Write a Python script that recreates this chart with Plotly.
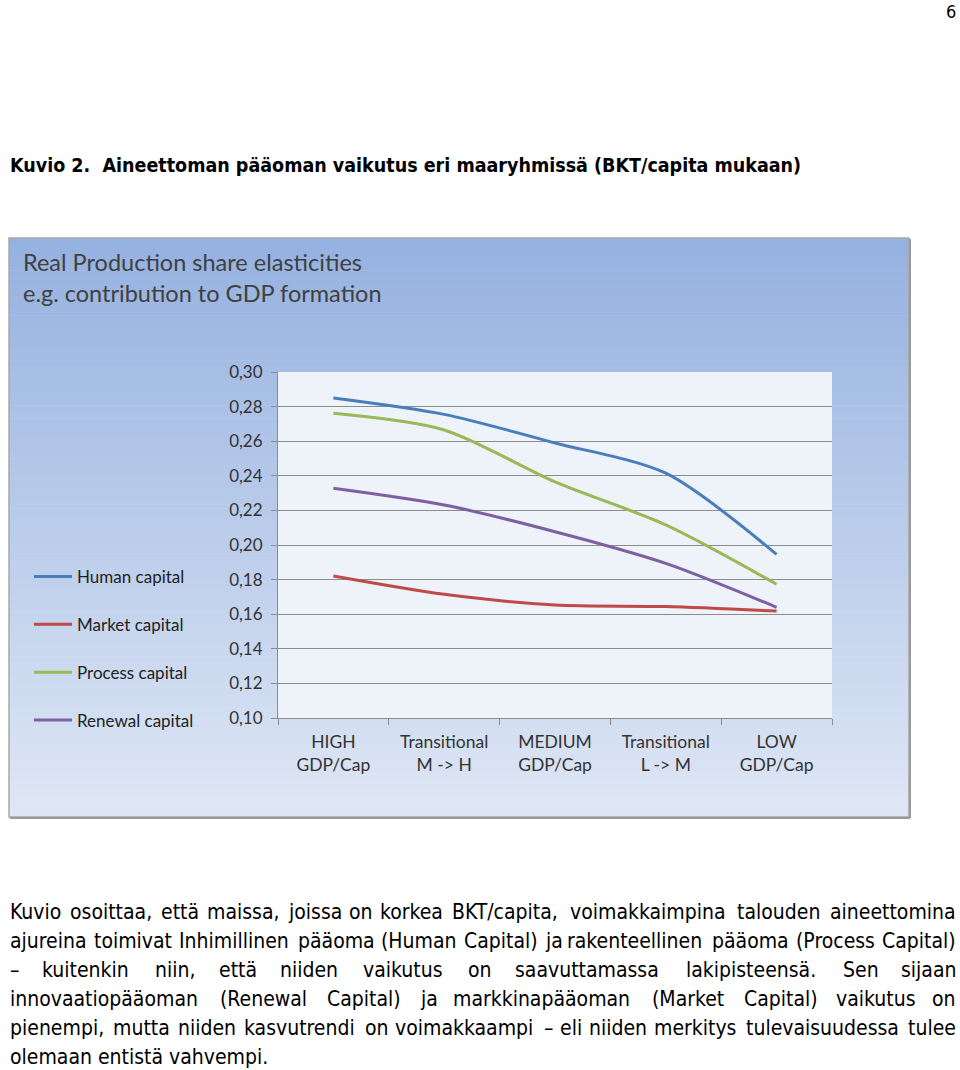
import plotly.graph_objects as go

# ---- data ----
categories = ["HIGH<br>GDP/Cap", "Transitional<br>M -> H", "MEDIUM<br>GDP/Cap",
              "Transitional<br>L -> M", "LOW<br>GDP/Cap"]
human_capital = [0.285, 0.2755, 0.259, 0.2415, 0.1946]
market_capital = [0.1821, 0.1715, 0.1653, 0.1644, 0.1618]
process_capital = [0.2761, 0.2665, 0.2365, 0.2116, 0.1773]
renewal_capital = [0.2328, 0.2231, 0.2077, 0.1894, 0.1640]
series_names = ["Human capital", "Market capital", "Process capital", "Renewal capital"]
series_colors = ["#4a7ebb", "#be4b48", "#98b954", "#7d60a0"]
y_ticks = [0.10, 0.12, 0.14, 0.16, 0.18, 0.20, 0.22, 0.24, 0.26, 0.28, 0.30]

doc_title = "Kuvio 2.  Aineettoman pääoman vaikutus eri maaryhmissä (BKT/capita mukaan)"
chart_title = ["Real Production share elasticities", "e.g. contribution to GDP formation"]
body_lines = [
    "Kuvio osoittaa, että maissa, joissa on korkea BKT/capita, voimakkaimpina talouden aineettomina",
    "ajureina toimivat Inhimillinen pääoma (Human Capital) ja rakenteellinen pääoma (Process Capital)",
    "– kuitenkin niin, että niiden vaikutus on saavuttamassa lakipisteensä. Sen sijaan",
    "innovaatiopääoman (Renewal Capital) ja markkinapääoman (Market Capital) vaikutus on",
    "pienempi, mutta niiden kasvutrendi on voimakkaampi – eli niiden merkitys tulevaisuudessa tulee",
    "olemaan entistä vahvempi.",
]
justify = [True, True, True, True, True, False]

W, H = 960, 1070
def px(x): return x / W
def py(y): return 1 - y / H

fig = go.Figure()
for name, vals, col in zip(series_names,
                           [human_capital, market_capital, process_capital, renewal_capital],
                           series_colors):
    fig.add_trace(go.Scatter(x=categories, y=vals, name=name, mode="lines",
                             legendgroup=name,
                             line=dict(color=col, width=3, shape="spline", smoothing=0.8)))

shapes = []
top_c = (149, 177, 224)
bot_c = (223, 231, 245)
y0, y1 = 238, 817
n = 90
for i in range(n):
    t = (i + 0.5) / n
    c = tuple(int(round(top_c[k] + (bot_c[k] - top_c[k]) * t)) for k in range(3))
    ya = y0 + (y1 - y0) * i / n
    yb = y0 + (y1 - y0) * (i + 1) / n + 0.6
    shapes.append(dict(type="rect", xref="paper", yref="paper", layer="below",
                       x0=px(9), x1=px(909), y0=py(ya), y1=py(min(yb, y1)),
                       line=dict(width=0), fillcolor="rgb(%d,%d,%d)" % c))
shapes.append(dict(type="rect", xref="paper", yref="paper", layer="below",
                   x0=px(9), x1=px(909), y0=py(817), y1=py(238),
                   line=dict(color="#a8a8a8", width=1.5), fillcolor="rgba(0,0,0,0)"))
shapes.append(dict(type="line", xref="paper", yref="paper", layer="below",
                   x0=px(10), x1=px(910), y0=py(818), y1=py(818),
                   line=dict(color="#9a9a9a", width=2)))
shapes.append(dict(type="line", xref="paper", yref="paper", layer="below",
                   x0=px(910), x1=px(910), y0=py(239), y1=py(818),
                   line=dict(color="#9a9a9a", width=2)))
shapes.append(dict(type="rect", xref="paper", yref="paper", layer="below",
                   x0=px(278), x1=px(832), y0=py(718), y1=py(372),
                   line=dict(width=0), fillcolor="#eef2f9"))

chart_font = "Lato, Open Sans, sans-serif"
doc_font = "DejaVu Sans Condensed, DejaVu Sans, sans-serif"
BODY_SIZE = 21

EM = {'a': .613, 'b': .635, 'c': .550, 'd': .635, 'e': .615, 'f': .352, 'g': .635, 'h': .634,
      'i': .278, 'j': .278, 'k': .579, 'l': .278, 'm': .974, 'n': .634, 'o': .612, 'p': .635,
      'q': .635, 'r': .411, 's': .521, 't': .392, 'u': .634, 'v': .592, 'w': .818, 'x': .592,
      'y': .592, 'z': .525, 'ä': .613, 'ö': .612, ' ': .318, ',': .318, '.': .318, '(': .390,
      ')': .390, '/': .337, '–': .5, 'B': .686, 'C': .698, 'H': .752, 'K': .656, 'L': .557,
      'M': .863, 'P': .603, 'R': .695, 'S': .635, 'T': .611, 'I': .295}
def text_w(s, size):
    return sum(EM.get(ch, 0.6) for ch in s) * size * 0.93

def ann(text, x, y, xanchor, size, family, color="#000"):
    return dict(text=text, x=x, y=y, xref="paper", yref="paper", xanchor=xanchor,
                yanchor="middle", showarrow=False, font=dict(family=family, size=size, color=color))

annotations = []
annotations.append(ann("6", px(958), py(11), "right", 18, doc_font))
annotations.append(ann("<b>" + doc_title + "</b>", px(8), py(166), "left", 19.5, doc_font))
for i, t in enumerate(chart_title):
    annotations.append(ann(t, px(21), py(262 + 31 * i), "left", 23.5, chart_font, "#404040"))

line_y0, line_dy = 912, 29
for i, (t, just) in enumerate(zip(body_lines, justify)):
    yy = py(line_y0 + line_dy * i)
    if not just:
        annotations.append(ann(t, px(8), yy, "left", BODY_SIZE, doc_font))
        continue
    words = t.split(" ")
    widths = [text_w(w, BODY_SIZE) for w in words]
    gap = (949 - sum(widths)) / (len(words) - 1)
    x = 8
    for j, (w, wd) in enumerate(zip(words, widths)):
        if j == len(words) - 1:
            annotations.append(ann(w, px(958), yy, "right", BODY_SIZE, doc_font))
        else:
            annotations.append(ann(w, px(x), yy, "left", BODY_SIZE, doc_font))
        x += wd + gap

fig.update_layout(
    width=W, height=H, autosize=False,
    margin=dict(l=0, r=0, t=0, b=0),
    paper_bgcolor="white", plot_bgcolor="rgba(0,0,0,0)",
    separators=",.",
    shapes=shapes, annotations=annotations,
    showlegend=True,
    legend=dict(x=px(29), y=py(559), xanchor="left", yanchor="top",
                bgcolor="rgba(0,0,0,0)", borderwidth=0,
                tracegroupgap=22.7, itemwidth=38,
                font=dict(family=chart_font, size=17, color="#222")),
    xaxis=dict(domain=[px(278), px(832)], type="category", automargin=False,
               showgrid=False, showline=True, linecolor="#8c8c8c", linewidth=1,
               ticks="outside", tickson="boundaries", ticklen=6, tickcolor="#8c8c8c",
               ticklabelstandoff=8,
               tickfont=dict(family=chart_font, size=17.5, color="#333"),
               range=[-0.5, 4.5], fixedrange=True),
    yaxis=dict(domain=[py(718), py(372)], automargin=False,
               range=[0.10, 0.30], tickvals=y_ticks, tickformat=".2f",
               showgrid=True, gridcolor="#8c8c8c", gridwidth=1,
               showline=True, linecolor="#8c8c8c", linewidth=1,
               ticks="outside", ticklen=6, tickcolor="#8c8c8c",
               ticklabelstandoff=5,
               tickfont=dict(family=chart_font, size=17, color="#333"),
               zeroline=False, fixedrange=True),
)

fig.write_html("out.html", config={"displayModeBar": False},
               post_script="document.body.style.margin='0';document.body.style.overflow='hidden';")
